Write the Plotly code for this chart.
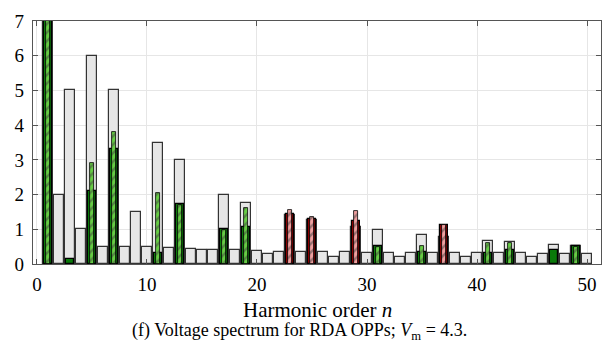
import plotly.graph_objects as go

# Harmonic orders
harmonics = list(range(1, 51))

# Gray bars: limit per harmonic (n = 1..50)
limit_vals = [10.0, 2.0, 5.0, 1.0, 6.0, 0.5, 5.0, 0.5, 1.5, 0.5,
              3.5, 0.46, 3.0, 0.43, 0.4, 0.41, 2.0, 0.39, 1.76, 0.38,
              0.3, 0.36, 1.41, 0.35, 1.27, 0.35, 0.2, 0.34, 1.06, 0.33,
              0.97, 0.33, 0.2, 0.32, 0.83, 0.32, 0.77, 0.32, 0.2, 0.31,
              0.67, 0.31, 0.63, 0.31, 0.2, 0.3, 0.55, 0.3, 0.52, 0.3]

# Solid bars (first spectrum), only at harmonics present
solid_n = [1, 3, 5, 7, 11, 13, 17, 19, 23, 25, 29, 31, 35, 37, 41, 43, 47, 49]
solid_vals = [9.0, 0.15, 2.09, 3.31, 0.32, 1.73, 1.01, 1.07, 1.43, 1.29,
              1.23, 0.52, 0.35, 1.12, 0.32, 0.40, 0.40, 0.51]

# Hatched bars (second spectrum)
hatch_n = [1, 5, 7, 11, 13, 17, 19, 23, 25, 29, 31, 35, 37, 41, 43, 49]
hatch_vals = [9.0, 2.92, 3.81, 2.04, 1.70, 0.98, 1.60, 1.57, 1.34, 1.54,
              0.49, 0.51, 1.12, 0.60, 0.60, 0.49]

x_ticks = [0, 10, 20, 30, 40, 50]
y_ticks = [0, 1, 2, 3, 4, 5, 6, 7]

limit_of = dict(zip(harmonics, limit_vals))
hatch_of = dict(zip(hatch_n, hatch_vals))

def exceeds(n):
    return hatch_of.get(n, 0) > limit_of[n]

GREEN_SOLID = "#0a7a0a"
GREEN_HATCH = "#66cc44"
RED_SOLID = "#8a0000"
RED_HATCH = "#f0a0a0"

solid_colors = [RED_SOLID if exceeds(n) else GREEN_SOLID for n in solid_n]
hatch_colors = [RED_HATCH if exceeds(n) else GREEN_HATCH for n in hatch_n]

fig = go.Figure()
fig.add_trace(go.Bar(
    x=harmonics, y=limit_vals, width=0.93,
    marker=dict(color="#e6e6e6", line=dict(color="#333333", width=1.2)),
    showlegend=False))
fig.add_trace(go.Bar(
    x=solid_n, y=solid_vals, width=0.8,
    marker=dict(color=solid_colors, line=dict(color="#000000", width=1.2)),
    showlegend=False))
fig.add_trace(go.Bar(
    x=hatch_n, y=hatch_vals, width=0.4,
    marker=dict(color=hatch_colors, line=dict(color="#000000", width=0.8),
                pattern=dict(shape="/", fgcolor="#000000", bgcolor=hatch_colors,
                             size=6, solidity=0.4, fillmode="overlay")),
    showlegend=False))

font_family = "Times New Roman, Times, Liberation Serif, serif"

fig.update_layout(
    width=613, height=346,
    margin=dict(l=33, r=11, t=11, b=82),
    barmode="overlay",
    bargap=0,
    plot_bgcolor="white", paper_bgcolor="white",
    font=dict(family=font_family, size=19, color="black"),
    xaxis=dict(range=[-0.36, 51.27], tickvals=x_ticks, ticks="inside", ticklen=5,
               tickcolor="#555555", showline=True, linecolor="#555555", linewidth=1.2,
               mirror="allticks", showgrid=True, gridcolor="#e6e6e6", gridwidth=1,
               zeroline=False, tickfont=dict(size=19, family=font_family),
               ticklabelstandoff=3),
    yaxis=dict(range=[0, 7], tickvals=y_ticks, ticks="inside", ticklen=5,
               tickcolor="#555555", showline=True, linecolor="#555555", linewidth=1.2,
               mirror="allticks", showgrid=True, gridcolor="#e6e6e6", gridwidth=1,
               zeroline=False, tickfont=dict(size=19, family=font_family),
               ticklabelstandoff=4),
    annotations=[
        dict(text="Harmonic order <i>n</i>", x=0.5, y=-0.19, xref="paper", yref="paper",
             xanchor="center", yanchor="middle", showarrow=False,
             font=dict(size=21, family=font_family)),
        dict(text="(f) Voltage spectrum for RDA OPPs; <i>V</i><sub>m</sub> = 4.3.",
             x=0.47, y=-0.277, xref="paper", yref="paper",
             xanchor="center", yanchor="middle", showarrow=False,
             font=dict(size=18, family=font_family)),
    ],
)

fig.write_html("out.html")
